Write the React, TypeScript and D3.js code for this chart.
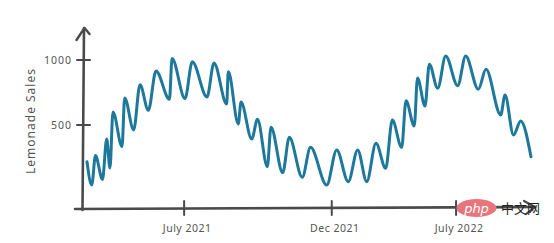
import React from "react";
import * as d3 from "d3";

// time index (weeks from start) and lemonade sales, read at local turning points
const weeks = [
  0, 0.85, 1.53, 2.79, 3.55, 4.14, 4.68, 6.31, 6.79, 8.41, 9.55, 11.05, 12.43, 14.86,
  15.32, 17.66, 18.97, 21.62, 22.88, 25.17, 25.46, 27.26, 27.75, 29.68, 30.72, 32.49,
  33.15, 35.26, 36.45, 38.79, 40.27, 43.19, 44.99, 47.08, 48.77, 50.4, 52.07, 53.82,
  55.01, 56.7, 57.48, 58.97, 59.55, 60.9, 61.68, 63.19, 64.63, 66.79, 68.23, 70.5,
  71.89, 74.54, 75.32, 76.85, 78.14, 80,
];
const sales = [
  218, 38, 265, 81, 392, 169, 600, 335, 708, 462, 810, 613, 915, 698,
  1012, 704, 987, 715, 977, 662, 910, 508, 677, 392, 544, 179,
  482, 133, 405, 98, 328, 38, 308, 64, 308, 64, 359, 167,
  538, 328, 687, 492, 862, 646, 967, 782, 1031, 802, 1031, 775,
  928, 577, 731, 423, 531, 256,
];
const yTicks = [500, 1000];
const xTickWeeks = [17.5, 44.1, 66.5];
const xTickLabels = ["July 2021", "Dec 2021", "July 2022"];
const yLabel = "Lemonade Sales";

const W = 554;
const H = 243;
const AXIS = "#4a4a4a";
const TEXT = "#555";
const LINE = "#1d789b";
const FONT = "'Noto Sans', 'DejaVu Sans', sans-serif";

export default function App() {
  const x = d3.scaleLinear().domain([0, 80]).range([87, 531]);
  const y = d3.scaleLinear().domain([0, 1000]).range([190, 60]);
  const pts = weeks.map((w, i) => [w, sales[i]] as [number, number]);
  const line = d3
    .line<[number, number]>()
    .x((d) => x(d[0]))
    .y((d) => y(d[1]))
    .curve(d3.curveMonotoneX);

  const axisX = 83;
  const axisY = 208;

  return (
    <svg
      width={W}
      height={H}
      style={{ position: "absolute", left: 0, top: 0, background: "#fff" }}
      fontFamily={FONT}
    >
      {/* y axis */}
      <path
        d={`M${axisX - 0.5},${axisY + 2} L${axisX + 1},28`}
        stroke={AXIS}
        strokeWidth={2.6}
        fill="none"
        strokeLinecap="round"
      />
      <path
        d={`M76.5,40 L${axisX + 1.5},28 L89.5,34`}
        stroke={AXIS}
        strokeWidth={2.4}
        fill="none"
        strokeLinecap="round"
        strokeLinejoin="round"
      />
      {/* x axis */}
      <path
        d={`M75,${axisY + 1} L535,${axisY - 1}`}
        stroke={AXIS}
        strokeWidth={2.6}
        fill="none"
        strokeLinecap="round"
      />
      <path
        d={`M524,201 L535,${axisY - 1} L526,214`}
        stroke={AXIS}
        strokeWidth={2.2}
        fill="none"
        strokeLinecap="round"
        strokeLinejoin="round"
      />
      {/* y ticks */}
      {yTicks.map((t) => (
        <g key={t}>
          <line
            x1={77}
            x2={90}
            y1={y(t)}
            y2={y(t)}
            stroke={AXIS}
            strokeWidth={2}
            strokeLinecap="round"
          />
          <text
            x={72}
            y={y(t)}
            dy="0.35em"
            textAnchor="end"
            fontSize={10.5}
            letterSpacing={1}
            fill={TEXT}
          >
            {t}
          </text>
        </g>
      ))}
      {/* x ticks */}
      {xTickWeeks.map((w, i) => (
        <g key={w}>
          <line
            x1={x(w)}
            x2={x(w)}
            y1={201}
            y2={215}
            stroke={AXIS}
            strokeWidth={2}
            strokeLinecap="round"
          />
          <text
            x={x(w) + 3}
            y={232}
            textAnchor="middle"
            fontSize={10.5}
            letterSpacing={0.5}
            fill={TEXT}
          >
            {xTickLabels[i]}
          </text>
        </g>
      ))}
      {/* y label */}
      <text
        transform="translate(35,121) rotate(-90)"
        textAnchor="middle"
        fontSize={12}
        letterSpacing={1}
        fill={TEXT}
      >
        {yLabel}
      </text>
      {/* data line */}
      <path
        d={line(pts) || ""}
        fill="none"
        stroke={LINE}
        strokeWidth={3}
        strokeLinejoin="round"
        strokeLinecap="round"
      />
      {/* watermark */}
      <ellipse cx={476.5} cy={208} rx={20} ry={9} fill="#e8747c" />
      <text
        x={476.5}
        y={212.5}
        textAnchor="middle"
        fontSize={13}
        fontStyle="italic"
        fill="#fff"
        fontFamily="'DejaVu Sans', sans-serif"
      >
        php
      </text>
      <text
        x={501}
        y={212.5}
        fontSize={13}
        fill="#222"
        fontFamily="'Noto Sans CJK SC', sans-serif"
      >
        中文网
      </text>
    </svg>
  );
}
